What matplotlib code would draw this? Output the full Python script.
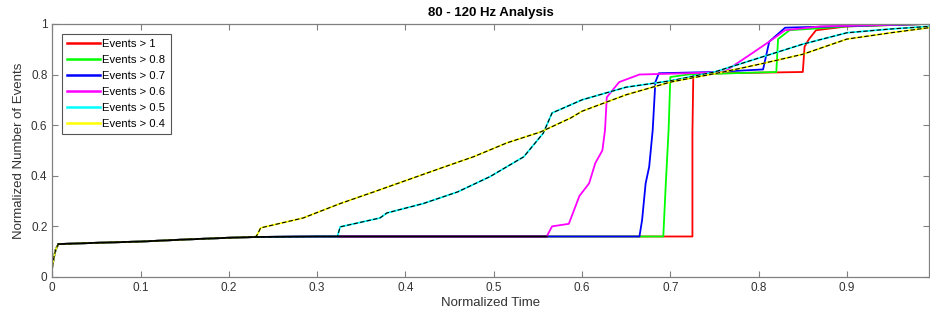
import numpy as np
import matplotlib
matplotlib.use("Agg")
import matplotlib.pyplot as plt

plt.rcParams['font.family'] = ['Liberation Sans', 'DejaVu Sans']

# shared start of every curve (x, y)
base_x = [0.0, 0.002, 0.004, 0.007, 0.05, 0.1, 0.15, 0.2, 0.23, 0.3]
base_y = [0.04, 0.08, 0.11, 0.13, 0.135, 0.14, 0.148, 0.155, 0.158, 0.16]

red_x = [0.725, 0.725, 0.726, 0.76, 0.85, 0.852, 0.857, 0.865, 0.9, 0.993]
red_y = [0.16, 0.57, 0.80, 0.805, 0.81, 0.91, 0.94, 0.975, 0.99, 1.0]

green_x = [0.692, 0.695, 0.698, 0.70, 0.72, 0.82, 0.822, 0.835, 0.9, 0.993]
green_y = [0.16, 0.38, 0.58, 0.79, 0.80, 0.81, 0.94, 0.975, 0.99, 1.0]

blue_x = [0.665, 0.668, 0.672, 0.676, 0.68, 0.683, 0.687, 0.75, 0.805, 0.812, 0.83, 0.993]
blue_y = [0.16, 0.225, 0.37, 0.435, 0.58, 0.77, 0.805, 0.81, 0.82, 0.93, 0.985, 1.0]

mag_x = [0.56, 0.566, 0.585, 0.597, 0.608, 0.615, 0.623, 0.626, 0.628, 0.642, 0.665,
         0.72, 0.761, 0.793, 0.812, 0.83, 0.87, 0.993]
mag_y = [0.16, 0.20, 0.21, 0.32, 0.37, 0.45, 0.50, 0.58, 0.71, 0.77, 0.80,
         0.805, 0.81, 0.885, 0.93, 0.975, 0.99, 1.0]

cyan_x = [0.323, 0.326, 0.371, 0.379, 0.42, 0.459, 0.496, 0.534, 0.556, 0.566, 0.587,
          0.6, 0.65, 0.7, 0.75, 0.8, 0.85, 0.9, 0.95, 0.993]
cyan_y = [0.16, 0.198, 0.233, 0.253, 0.29, 0.336, 0.397, 0.475, 0.568, 0.648, 0.68,
          0.70, 0.75, 0.775, 0.81, 0.865, 0.92, 0.965, 0.98, 0.99]

yel_x = [0.232, 0.236, 0.284, 0.326, 0.364, 0.402, 0.44, 0.477, 0.515, 0.553, 0.587,
         0.6, 0.65, 0.7, 0.76, 0.8, 0.85, 0.9, 0.95, 0.993]
yel_y = [0.166, 0.194, 0.233, 0.29, 0.336, 0.383, 0.43, 0.475, 0.53, 0.573, 0.628,
         0.655, 0.72, 0.77, 0.81, 0.84, 0.88, 0.94, 0.965, 0.985]

labels = ['Events > 1', 'Events > 0.8', 'Events > 0.7', 'Events > 0.6',
          'Events > 0.5', 'Events > 0.4']
colors = ['#ff0000', '#00ff00', '#0000ff', '#ff00ff', '#00ffff', '#ffff00']

series = [(red_x, red_y), (green_x, green_y), (blue_x, blue_y),
          (mag_x, mag_y), (cyan_x, cyan_y), (yel_x, yel_y)]

fig = plt.figure(figsize=(9.3, 3.22), dpi=100)
ax = fig.add_axes([0.0562, 0.1398, 0.9428, 0.786])

for (sx, sy), c, lab in zip(series, colors, labels):
    keep = [i for i in range(len(base_x)) if base_x[i] < sx[0]]
    xs = [base_x[i] for i in keep] + sx
    ys = [base_y[i] for i in keep] + sy
    ax.plot(xs, ys, color=c, lw=1.3, label=lab)
    if c in ('#00ffff', '#ffff00'):
        ax.plot(xs, ys, color='k', lw=0.8, ls=(0, (4, 2)))

# dark baseline on top
ax.plot(base_x[3:] + [0.56], base_y[3:] + [0.16], color='k', lw=1.3)

ax.set_xlim(0, 0.993)
ax.set_ylim(0, 1)
ax.set_xticks(np.arange(0, 1.0, 0.1))
ax.set_xticklabels(['0', '0.1', '0.2', '0.3', '0.4', '0.5', '0.6', '0.7', '0.8', '0.9'])
ax.set_yticks([0, 0.2, 0.4, 0.6, 0.8, 1])
ax.set_yticklabels(['0', '0.2', '0.4', '0.6', '0.8', '1'])
ax.tick_params(direction='in', top=True, right=True, length=4, width=0.8,
               colors='#808080', labelcolor='#333333', labelsize=8.5)
for s in ax.spines.values():
    s.set_color('#808080')
    s.set_linewidth(0.9)

ax.set_xlabel('Normalized Time', fontsize=9.5, color='#333333', labelpad=2)
ax.set_ylabel('Normalized Number of Events', fontsize=9.5, color='#333333', labelpad=4)
ax.set_title('80 - 120 Hz Analysis', fontsize=9.5, fontweight='bold', pad=6)

leg = ax.legend(loc='upper left', bbox_to_anchor=(0.011, 0.96), fontsize=8.1,
                fancybox=False, framealpha=1, edgecolor='#555555',
                handlelength=2.9, handletextpad=0.25, labelspacing=0.53,
                borderpad=0.45, borderaxespad=0)
leg.get_frame().set_linewidth(0.8)
for ln in leg.get_lines():
    ln.set_linewidth(1.8)

fig.savefig('out.png', dpi=100)
